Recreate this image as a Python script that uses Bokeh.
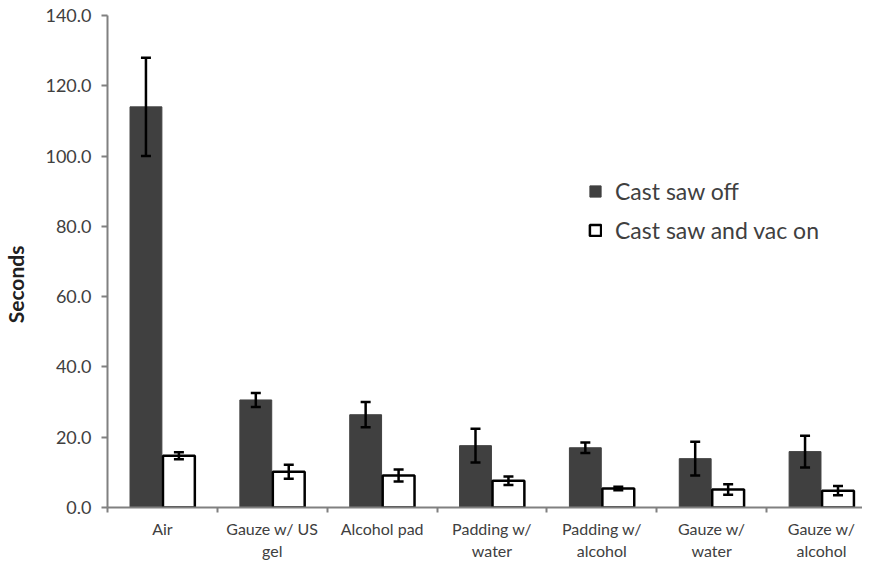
from bokeh.plotting import figure
from bokeh.models import (ColumnDataSource, Range1d, FixedTicker, Whisker, TeeHead,
                          Legend, LegendItem, NumeralTickFormatter)
from bokeh.embed import file_html
from bokeh.resources import INLINE

categories = ["Air", "Gauze w/ US\ngel", "Alcohol pad", "Padding w/\nwater",
              "Padding w/\nalcohol", "Gauze w/\nwater", "Gauze w/\nalcohol"]
saw_off = [114.0, 30.6, 26.4, 17.6, 17.0, 13.9, 15.9]
saw_off_err = [14.0, 2.0, 3.6, 4.8, 1.5, 4.8, 4.5]
saw_vac_on = [14.7, 10.2, 9.1, 7.6, 5.4, 5.1, 4.8]
saw_vac_on_err = [1.0, 2.0, 1.7, 1.2, 0.5, 1.5, 1.3]
y_ticks = [0, 20, 40, 60, 80, 100, 120, 140]

FONT = "Lato"
TEXT = "#404040"
AXIS = "#808080"

n = len(categories)
centers = [i + 0.5 for i in range(n)]
off_x = [c - 0.15 for c in centers]
on_x = [c + 0.15 for c in centers]

src_off = ColumnDataSource(dict(x=off_x, top=saw_off,
                                lo=[v - e for v, e in zip(saw_off, saw_off_err)],
                                hi=[v + e for v, e in zip(saw_off, saw_off_err)]))
src_on = ColumnDataSource(dict(x=on_x, top=saw_vac_on,
                               lo=[v - e for v, e in zip(saw_vac_on, saw_vac_on_err)],
                               hi=[v + e for v, e in zip(saw_vac_on, saw_vac_on_err)]))

p = figure(width=862, height=563, output_backend="svg", toolbar_location=None,
           x_range=Range1d(0, 6.873), y_range=Range1d(0, 140),
           min_border_left=106, min_border_right=0, min_border_top=15, min_border_bottom=0)
p.outline_line_color = None
p.xgrid.grid_line_color = None
p.ygrid.grid_line_color = None

r_off = p.vbar(x="x", top="top", width=0.29, bottom=0, source=src_off,
               fill_color="#404040", line_color="#404040", line_width=1)
r_on = p.vbar(x="x", top="top", width=0.29, bottom=0, source=src_on,
              fill_color="white", line_color="black", line_width=2.5)

for s in (src_off, src_on):
    w = Whisker(base="x", lower="lo", upper="hi", source=s, level="overlay",
                line_color="black", line_width=2.5,
                upper_head=TeeHead(size=10, line_color="black", line_width=2.5),
                lower_head=TeeHead(size=10, line_color="black", line_width=2.5))
    p.add_layout(w)

# x axis
p.xaxis.ticker = FixedTicker(ticks=centers, minor_ticks=list(range(n + 1)))
p.xaxis.major_label_overrides = {c: lab for c, lab in zip(centers, categories)}
p.xaxis.major_tick_line_color = None
p.xaxis.major_tick_out = 0
p.xaxis.major_tick_in = 0
p.xaxis.minor_tick_line_color = AXIS
p.xaxis.minor_tick_line_width = 2
p.xaxis.minor_tick_out = 5
p.xaxis.minor_tick_in = 0
p.xaxis.axis_line_color = AXIS
p.xaxis.axis_line_width = 2
p.xaxis.major_label_text_font = FONT
p.xaxis.major_label_text_font_size = "16px"
p.xaxis.major_label_text_color = TEXT
p.xaxis.major_label_standoff = 6

# y axis
p.yaxis.ticker = FixedTicker(ticks=y_ticks, minor_ticks=[])
p.yaxis.formatter = NumeralTickFormatter(format="0.0")
p.yaxis.axis_line_color = AXIS
p.yaxis.axis_line_width = 2
p.yaxis.major_tick_line_color = AXIS
p.yaxis.major_tick_line_width = 2
p.yaxis.major_tick_out = 6
p.yaxis.major_tick_in = 0
p.yaxis.major_label_text_font = FONT
p.yaxis.major_label_text_font_size = "18px"
p.yaxis.major_label_text_color = TEXT
p.yaxis.major_label_standoff = 10
p.yaxis.axis_label = "Seconds" + "\u00a0" * 9
p.yaxis.axis_label_text_font = FONT
p.yaxis.axis_label_text_font_size = "21px"
p.yaxis.axis_label_text_font_style = "bold"
p.yaxis.axis_label_text_color = "#202020"
p.yaxis.axis_label_standoff = 14

legend = Legend(items=[LegendItem(label="Cast saw off", renderers=[r_off]),
                       LegendItem(label="Cast saw and vac on", renderers=[r_on])],
                location=(481, 263))
legend.border_line_color = None
legend.background_fill_alpha = 0
legend.label_text_font = FONT
legend.label_text_font_size = "23px"
legend.label_text_color = TEXT
legend.glyph_width = 14
legend.glyph_height = 14
legend.spacing = 11
legend.label_standoff = 13
p.add_layout(legend)

open("out.html", "w").write(file_html(p, INLINE))
